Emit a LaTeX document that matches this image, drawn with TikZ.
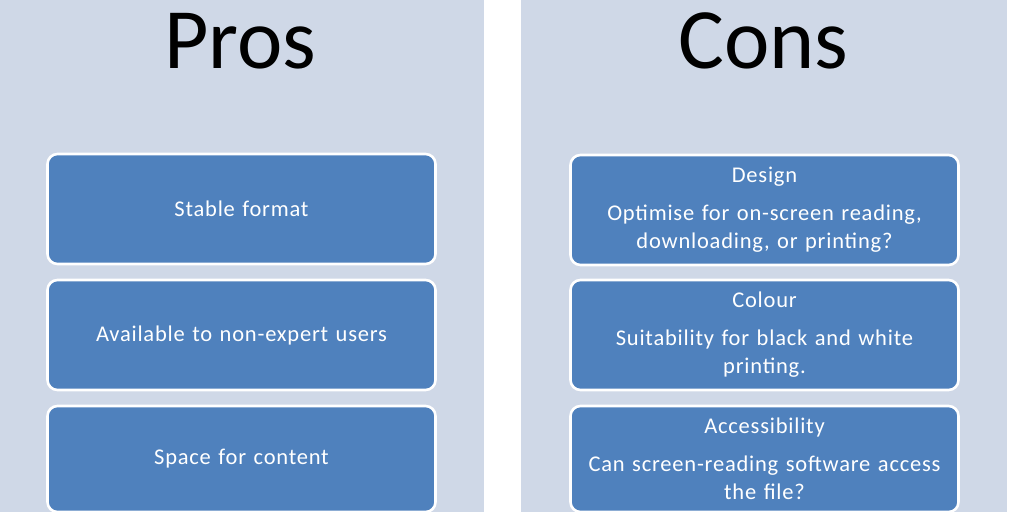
\documentclass[tikz,border=0pt]{standalone}
\usepackage{fontspec}
\setmainfont{Carlito}
\newfontfamily\boxfont[LetterSpace=3.5]{Carlito}
\definecolor{panelbg}{HTML}{CFD8E7}
\definecolor{boxfill}{HTML}{4F81BD}
\begin{document}
\begin{tikzpicture}[x=1pt,y=-1pt,
  panel/.style={fill=panelbg,draw=none},
  title/.style={font=\fontsize{86}{86}\selectfont,text=black,anchor=base,inner sep=0pt},
  itembox/.style={draw=white,line width=2.6pt,fill=boxfill,rounded corners=10pt,
    minimum width=388pt,text width=375pt,align=center,text=white,
    font=\boxfont\fontsize{22.5}{28}\selectfont,inner sep=0pt}]
\useasboundingbox (0,0) rectangle (1024,512);
\fill[white] (0,0) rectangle (1024,512);
\path[panel] (0,0) rectangle (484,512);
\path[panel] (521,0) rectangle (1007,512);
\node[title] (pros) at (240.5,68) {Pros};
\node[title] (cons) at (763.5,68) {Cons};
\node[itembox,minimum height=110pt] (p1) at (241.5,209) {Stable format};
\node[itembox,minimum height=110pt] (p2) at (241.5,335) {Available to non-expert users};
\node[itembox,minimum height=106pt] (p3) at (241.5,459) {Space for content};
\node[itembox,minimum height=110pt] (c1) at (764.5,210) {Design\\[10pt]Optimise for on-screen reading,\\downloading, or printing?};
\node[itembox,minimum height=110pt] (c2) at (764.5,335) {Colour\\[10pt]Suitability for black and white\\printing.};
\node[itembox,minimum height=106pt] (c3) at (764.5,459) {Accessibility\\[10pt]Can screen-reading software access\\the file?};
\end{tikzpicture}
\end{document}
